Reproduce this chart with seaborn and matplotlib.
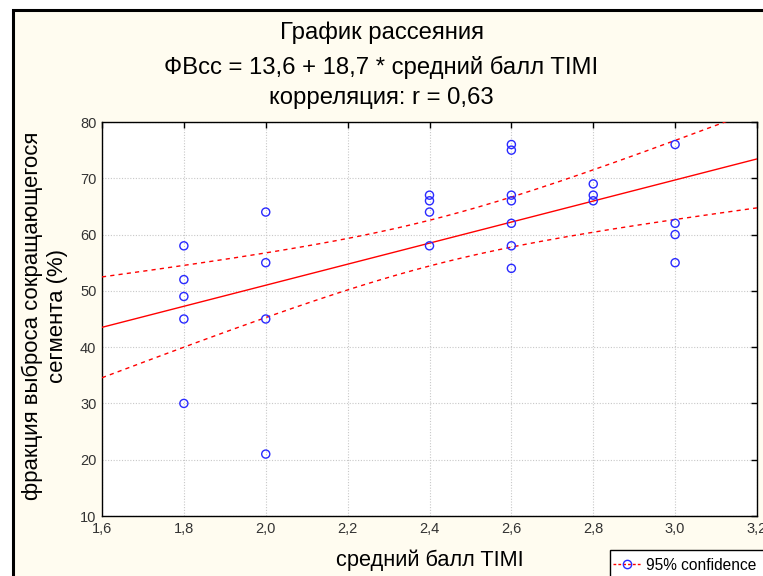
import numpy as np
import pandas as pd
import matplotlib
matplotlib.use("Agg")
import matplotlib.pyplot as plt
from matplotlib.patches import Rectangle
from matplotlib.lines import Line2D
import seaborn as sns

# Mean TIMI score and segment ejection fraction (%) per patient
timi = [1.8, 1.8, 1.8, 1.8, 1.8,
        2.0, 2.0, 2.0, 2.0,
        2.4, 2.4, 2.4, 2.4,
        2.6, 2.6, 2.6, 2.6, 2.6, 2.6, 2.6,
        2.8, 2.8, 2.8,
        3.0, 3.0, 3.0, 3.0]
ef = [58, 52, 49, 45, 30,
      64, 55, 45, 21,
      67, 66, 64, 58,
      76, 75, 67, 66, 62, 58, 54,
      69, 67, 66,
      76, 62, 60, 55]

# Fitted model as stated in the title
intercept = 13.6
slope = 18.7
r_value = "0,63"

x_ticks = [1.6, 1.8, 2.0, 2.2, 2.4, 2.6, 2.8, 3.0, 3.2]
y_ticks = [10, 20, 30, 40, 50, 60, 70, 80]

sns.set_theme(style="white")
plt.rcParams["font.family"] = ["Liberation Sans", "DejaVu Sans"]
plt.rcParams["text.color"] = "black"

W, H = 763, 576
fig = plt.figure(figsize=(W / 100, H / 100), dpi=100)
fig.patch.set_facecolor("white")

# Cream panel with a heavy black frame (runs off the right and bottom edges)
fig.patches.append(Rectangle((13 / W, -0.1), 1.2, (H - 10) / H + 0.1,
                             transform=fig.transFigure, facecolor="#fffcf0",
                             edgecolor="black", linewidth=2.2, zorder=-5))

ax = fig.add_axes([102 / W, 1 - 516 / H, (757 - 102) / W, (516 - 122) / H])
ax.set_facecolor("white")
ax.set_zorder(2)

df = pd.DataFrame({"timi": timi, "ef": ef})

# Regression line and 95% confidence band for the mean
xs = np.linspace(x_ticks[0], x_ticks[-1], 200)
n = len(timi)
xa = np.asarray(timi, float)
ya = np.asarray(ef, float)
resid = ya - (intercept + slope * xa)
s = np.sqrt((resid ** 2).sum() / (n - 2))
sxx = ((xa - xa.mean()) ** 2).sum()
t_crit = 2.060  # t(0.975, df=25)
half = t_crit * s * np.sqrt(1 / n + (xs - xa.mean()) ** 2 / sxx)
fit = intercept + slope * xs
band = pd.DataFrame({"x": xs, "fit": fit, "lo": fit - half, "hi": fit + half})

sns.lineplot(data=band, x="x", y="fit", ax=ax, color="#ff0000", linewidth=1.0, zorder=3)
for col in ("lo", "hi"):
    sns.lineplot(data=band, x="x", y=col, ax=ax, color="#ff0000", linewidth=1.0,
                 linestyle=(0, (3, 3)), zorder=3)

sns.scatterplot(data=df, x="timi", y="ef", ax=ax, marker="o", s=34,
                facecolor="none", edgecolor="#2a2aff", linewidth=1.0, zorder=4)

ax.set_xlim(x_ticks[0], x_ticks[-1])
ax.set_ylim(y_ticks[0], y_ticks[-1])
ax.set_xticks(x_ticks)
ax.set_yticks(y_ticks)
ax.set_xticklabels([f"{v:.1f}".replace(".", ",") for v in x_ticks])
ax.set_yticklabels([str(v) for v in y_ticks])
ax.tick_params(direction="in", length=4, width=1, color="black",
               top=True, right=True, labelsize=10.5, labelcolor="#333333", pad=4)
ax.grid(True, linestyle=(0, (1, 1.5)), color="#c8c8c8", linewidth=0.8)
for sp in ax.spines.values():
    sp.set_color("black")
    sp.set_linewidth(1.0)
    sp.set_visible(True)

ax.set_xlabel("")
ax.set_ylabel("")

fig.text(0.5, 1 - 33 / H, "График рассеяния", ha="center", va="center", fontsize=17.2)
fig.text(0.5, 1 - 67 / H, "ФВсс = 13,6 + 18,7 * средний балл TIMI",
         ha="center", va="center", fontsize=17.2)
fig.text(0.5, 1 - 98 / H, f"корреляция: r = {r_value}", ha="center", va="center", fontsize=17.2)

fig.text(430 / W, 1 - 560 / H, "средний балл TIMI", ha="center", va="center", fontsize=15.7)
fig.text(32 / W, 1 - 316 / H, "фракция выброса сокращающегося", ha="center", va="center",
         rotation=90, fontsize=15.9)
fig.text(57 / W, 1 - 316 / H, "сегмента (%)", ha="center", va="center",
         rotation=90, fontsize=15.9)

# Legend box running off the lower right corner
fig.patches.append(Rectangle((610 / W, -0.1), 0.5, 0.1 + (H - 550) / H,
                             transform=fig.transFigure, facecolor="white",
                             edgecolor="black", linewidth=1.0, zorder=3))
handle = Line2D([0], [0], color="#ff0000", linestyle=(0, (2, 1.5)), linewidth=1,
                marker="o", markerfacecolor="none", markeredgecolor="#2a2aff", markersize=6)
leg = fig.legend([handle], ["95% confidence"], loc="center left",
                 bbox_to_anchor=(613 / W, 1 - 565 / H), frameon=False, fontsize=11.2,
                 handlelength=1.8, handletextpad=0.3, borderpad=0, borderaxespad=0)
leg.set_zorder(4)

fig.savefig("out.png", dpi=100)
